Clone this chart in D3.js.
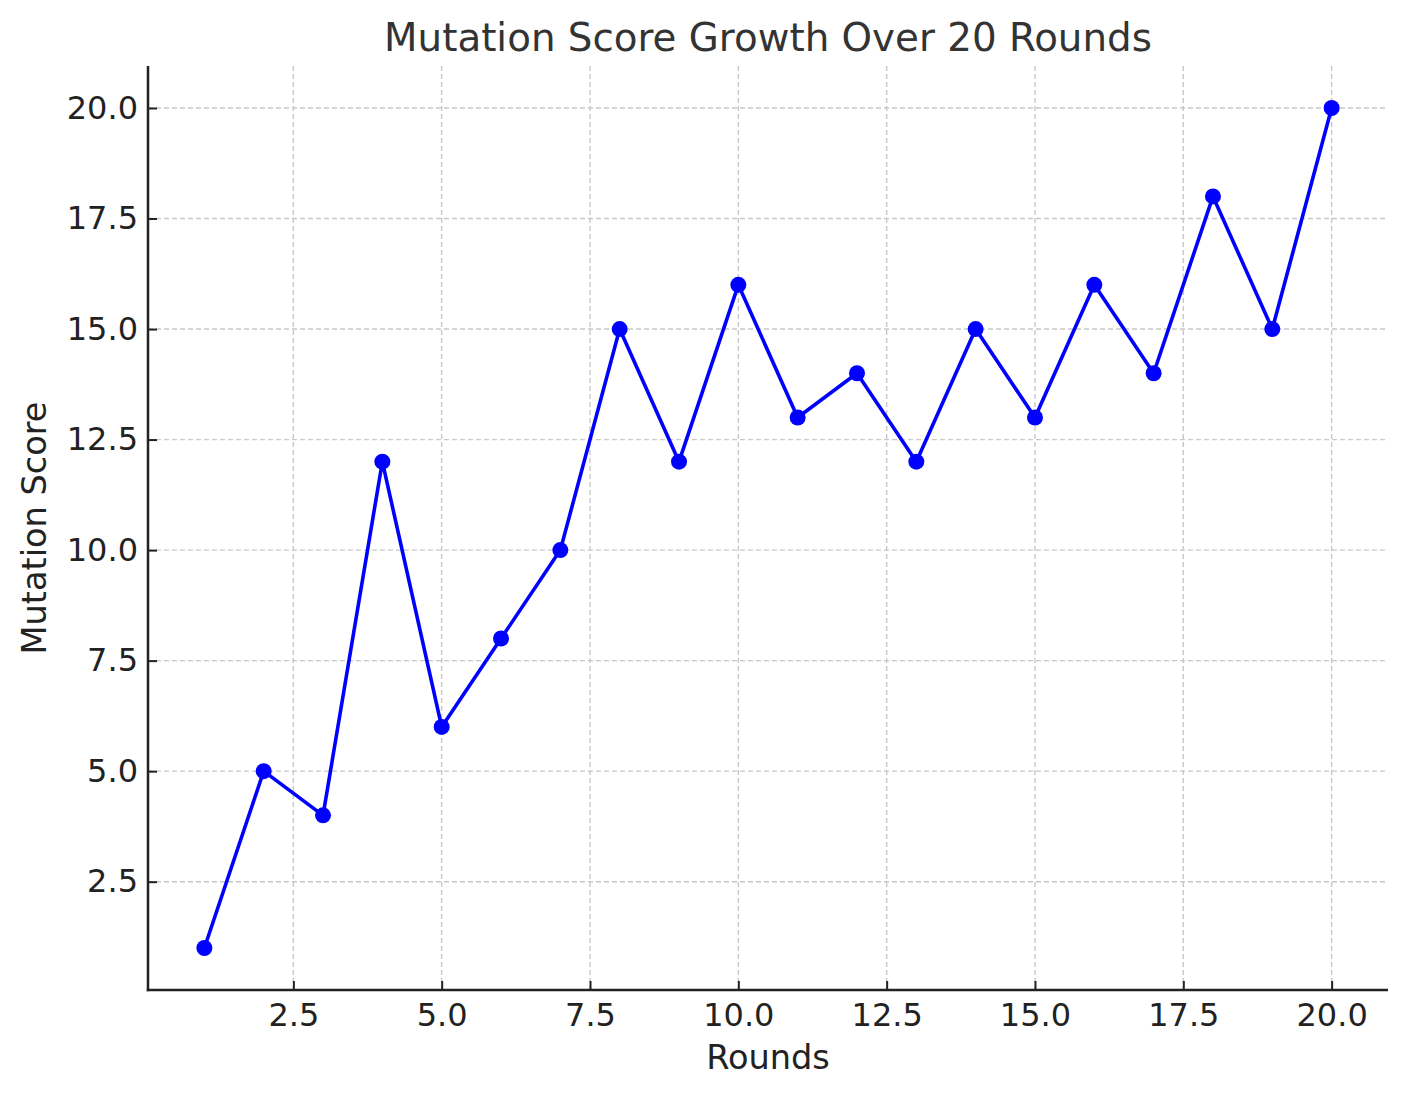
<!DOCTYPE html>
<html><head><meta charset="utf-8">
<script src="https://cdn.jsdelivr.net/npm/d3@7"></script>
<style>body{margin:0;background:#fff;} svg{display:block;} text{font-family:"DejaVu Sans",sans-serif;}</style>
</head><body>
<svg id="c" width="1408" height="1097"></svg>
<script>
const rounds = d3.range(1, 21);
const scores = [1,5,4,12,6,8,10,15,12,16,13,14,12,15,13,16,14,18,15,20];
const xTicks = [2.5,5,7.5,10,12.5,15,17.5,20];
const yTicks = [2.5,5,7.5,10,12.5,15,17.5,20];
const title = "Mutation Score Growth Over 20 Rounds";
const xLabel = "Rounds";
const yLabel = "Mutation Score";

const svg = d3.select("#c");
const L=148, R=1388, T=66, B=990;
const x = d3.scaleLinear().domain([0.05,20.95]).range([L,R]);
const y = d3.scaleLinear().domain([0.05,20.95]).range([B,T]);
const fmt = d3.format(".1f");

// grid
const g = svg.append("g");
g.selectAll("line.vx").data(xTicks).join("line")
  .attr("x1",d=>x(d)).attr("x2",d=>x(d)).attr("y1",T).attr("y2",B)
  .attr("stroke","#c8c8c8").attr("stroke-width",1.4).attr("stroke-dasharray","5,3");
g.selectAll("line.hy").data(yTicks).join("line")
  .attr("y1",d=>y(d)).attr("y2",d=>y(d)).attr("x1",L).attr("x2",R)
  .attr("stroke","#c8c8c8").attr("stroke-width",1.4).attr("stroke-dasharray","5,3");

// axes
const xa = svg.append("g").attr("transform",`translate(0,${B})`)
  .call(d3.axisBottom(x).tickValues(xTicks).tickFormat(fmt).tickSizeInner(-9).tickSizeOuter(0).tickPadding(13));
const ya = svg.append("g").attr("transform",`translate(${L},0)`)
  .call(d3.axisLeft(y).tickValues(yTicks).tickFormat(fmt).tickSizeInner(-9).tickSizeOuter(0).tickPadding(10));
[xa,ya].forEach(a=>{
  a.select(".domain").attr("stroke","#222").attr("stroke-width",2.5);
  a.selectAll(".tick line").attr("stroke","#222").attr("stroke-width",2);
  a.selectAll(".tick text").attr("fill","#222").style("font-size","32px").style("font-family","DejaVu Sans");
});
ya.select(".domain").attr("d",`M0,${T}V${B+1.25}`);
xa.select(".domain").attr("d",`M${L-1.25},0H${R}`);

// line
const line = d3.line().x((d,i)=>x(rounds[i])).y(d=>y(d));
svg.append("path").datum(scores).attr("d",line)
  .attr("fill","none").attr("stroke","#0000ff").attr("stroke-width",3.6).attr("stroke-linejoin","round");
svg.selectAll("circle").data(scores).join("circle")
  .attr("cx",(d,i)=>x(rounds[i])).attr("cy",d=>y(d)).attr("r",8).attr("fill","#0000ff");

// labels
svg.append("text").attr("x",(L+R)/2).attr("y",51).attr("text-anchor","middle")
  .attr("fill","#333").style("font-size","38.8px").text(title);
svg.append("text").attr("x",(L+R)/2).attr("y",1069).attr("text-anchor","middle")
  .attr("fill","#222").style("font-size","33.6px").text(xLabel);
svg.append("text").attr("transform",`translate(46,${(T+B)/2}) rotate(-90)`).attr("text-anchor","middle")
  .attr("fill","#222").style("font-size","33.6px").text(yLabel);
</script>
</body></html>
